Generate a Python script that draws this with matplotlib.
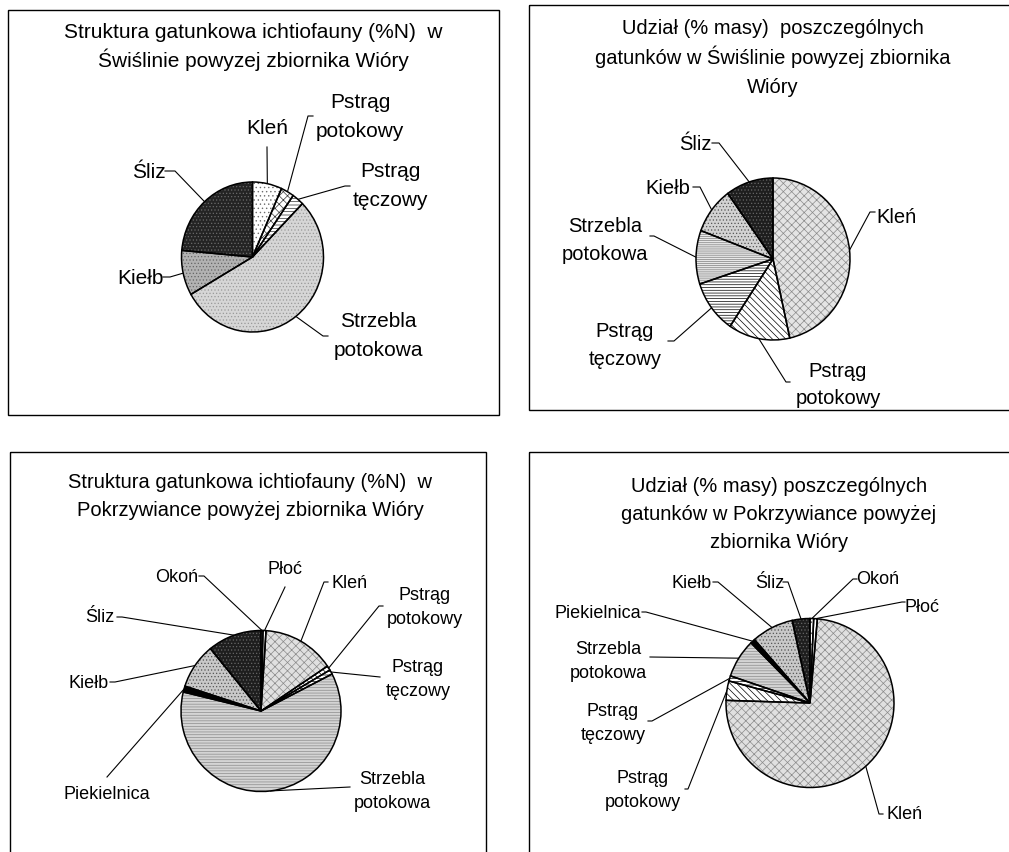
import numpy as np
import matplotlib.pyplot as plt
from matplotlib.patches import Rectangle

plt.rcParams['font.family'] = ['Liberation Sans', 'DejaVu Sans']
plt.rcParams['hatch.linewidth'] = 0.5

W, H = 1009, 853

# udział procentowy gatunków
swi_labels = ['Kleń', 'Pstrąg\npotokowy', 'Pstrąg\ntęczowy', 'Strzebla\npotokowa', 'Kiełb', 'Śliz']
swi_n_values = [6.7, 3.0, 2.7, 54.3, 9.7, 23.6]
swi_m_values = [46.5, 12.9, 10.6, 10.7, 9.3, 10.0]

pok_labels = ['Okoń', 'Płoć', 'Kleń', 'Pstrąg\npotokowy', 'Pstrąg\ntęczowy',
              'Strzebla\npotokowa', 'Piekielnica', 'Kiełb', 'Śliz']
pok_n_values = [0.4, 0.6, 14.6, 0.9, 0.9, 61.4, 1.2, 9.1, 10.9]
pok_m_values = [0.7, 0.7, 74.1, 3.7, 1.0, 7.4, 0.9, 8.1, 3.4]

titles = [
    ['Struktura gatunkowa ichtiofauny (%N)  w', 'Świślinie powyzej zbiornika Wióry'],
    ['Udział (% masy)  poszczególnych', 'gatunków w Świślinie powyzej zbiornika', 'Wióry'],
    ['Struktura gatunkowa ichtiofauny (%N)  w', 'Pokrzywiance powyżej zbiornika Wióry'],
    ['Udział (% masy) poszczególnych', 'gatunków w Pokrzywiance powyżej', 'zbiornika Wióry'],
]

# wypełnienia: (kolor tła, kreskowanie, kolor kreskowania)
style_n1 = {
    'Kleń': ('white', '....', '#6e6e6e'),
    'Pstrąg\npotokowy': ('white', 'xxxx', '#3a3a3a'),
    'Pstrąg\ntęczowy': ('white', '-----', '#303030'),
    'Strzebla\npotokowa': ('#d6d6d6', '.....', '#9a9a9a'),
    'Kiełb': ('#b2b2b2', '.....', '#666666'),
    'Śliz': ('#242424', '.....', '#6a6a6a'),
}
style_m1 = {
    'Kleń': ('#e4e4e4', 'xxxx', '#8a8a8a'),
    'Pstrąg\npotokowy': ('white', '\\\\\\\\\\', 'black'),
    'Pstrąg\ntęczowy': ('white', '------', 'black'),
    'Strzebla\npotokowa': ('#e8e8e8', '--------', '#808080'),
    'Kiełb': ('#d2d2d2', '.....', '#555555'),
    'Śliz': ('#1e1e1e', '.....', '#666666'),
}
style_p = {
    'Okoń': ('white', '...', '#555555'),
    'Płoć': ('white', None, 'black'),
    'Kleń': ('#e0e0e0', 'xxxx', '#8a8a8a'),
    'Pstrąg\npotokowy': ('white', '\\\\\\\\\\', 'black'),
    'Pstrąg\ntęczowy': ('white', '-----', 'black'),
    'Strzebla\npotokowa': ('#d4d4d4', '------', '#8c8c8c'),
    'Piekielnica': ('black', None, 'black'),
    'Kiełb': ('#c8c8c8', '.....', '#555555'),
    'Śliz': ('#1e1e1e', '.....', '#666666'),
}

# panele: ramka, środek i promienie koła, tytuł, wielkość czcionki
panels = [
    dict(box=(8, 11, 499, 416), center=(252.5, 258), r=(71, 75),
         title_x=253, title_y=[32, 60], title_fs=15, fs=15, gap=28.5,
         labels=swi_labels, values=swi_n_values, style=style_n1,
         # (tekst x, tekst y, początek linii x, y, odcinek poziomy)
         place=[(267, 128, 267, 148, 0), (360, 117, 313, 117, -5),
                (390, 186, 350, 187, -5), (378, 336, 328, 337, -5),
                (140, 278, 163, 278, 7), (149, 172, 165, 172, 10)]),
    dict(box=(529, 6, 1012, 411), center=(773, 260), r=(77, 81),
         title_x=773, title_y=[28, 57, 87], title_fs=14.5, fs=14.5, gap=28,
         labels=swi_labels, values=swi_m_values, style=style_m1,
         place=[(897, 217, 875, 213, -5), (838, 385, 790, 383, -4),
                (625, 345, 668, 342, 6), (605, 240, 650, 237, 4),
                (668, 188, 693, 188, 7), (695, 144, 712, 144, 7)]),
    dict(box=(10, 453, 486, 870), center=(261, 712), r=(80, 80.5),
         title_x=250, title_y=[483, 510], title_fs=14.5, fs=13, gap=24,
         labels=pok_labels, values=pok_n_values, style=style_p,
         place=[(177, 577, 199, 577, 5), (285, 570, 285, 588, 0),
                (350, 583, 328, 583, -4), (425, 608, 383, 607, -4),
                (418, 680, 380, 678, 0), (392, 792, 350, 788, 0),
                (107, 795, 107, 778, 0), (89, 683, 110, 683, 5),
                (100, 618, 117, 618, 5)]),
    dict(box=(529, 453, 1015, 870), center=(810, 704), r=(84, 84.5),
         title_x=779, title_y=[487, 515, 542], title_fs=14.5, fs=13, gap=24,
         labels=pok_labels, values=pok_m_values, style=style_p,
         place=[(878, 580, 857, 580, -4), (922, 608, 905, 603, -3),
                (905, 815, 883, 815, -4), (643, 791, 685, 790, 3),
                (613, 723, 648, 722, 4), (608, 662, 650, 658, 0),
                (598, 613, 642, 613, 4), (692, 583, 713, 583, 5),
                (770, 583, 783, 583, 5)]),
]

fig = plt.figure(figsize=(W / 100, H / 100), dpi=100)
fig.patch.set_facecolor('white')

# warstwa w pikselach (y w dół) na ramki, tytuły i opisy
frame = fig.add_axes([0, 0, 1, 1])
frame.set_xlim(0, W)
frame.set_ylim(H, 0)
frame.axis('off')


def put_text(x, y, text, fs, gap):
    lines = text.split('\n')
    y0 = y - gap * (len(lines) - 1) / 2
    for i, line in enumerate(lines):
        frame.text(x, y0 + i * gap, line, fontsize=fs, ha='center', va='center')


for k, p in enumerate(panels):
    x0, y0, x1, y1 = p['box']
    frame.add_patch(Rectangle((x0, y0), x1 - x0, y1 - y0, fill=False,
                              edgecolor='black', linewidth=1.0, clip_on=False))
    for line, ty in zip(titles[k], p['title_y']):
        frame.text(p['title_x'], ty, line, fontsize=p['title_fs'], ha='center', va='center')

    cx, cy = p['center']
    rx, ry = p['r']
    pie_ax = fig.add_axes([(cx - rx) / W, (H - cy - ry) / H, 2 * rx / W, 2 * ry / H])
    styles = [p['style'][lab] for lab in p['labels']]

    # wypełnienie wycinków (kolor kreskowania = kolor krawędzi o grubości 0)
    wedges, _ = pie_ax.pie(p['values'], colors=[s[0] for s in styles],
                           hatch=[s[1] for s in styles],
                           startangle=90, counterclock=False,
                           wedgeprops=dict(linewidth=0, clip_on=False))
    for w, s in zip(wedges, styles):
        w.set_edgecolor(s[2])
        w.set_linewidth(0)
    # obrys wycinków
    pie_ax.pie(p['values'], startangle=90, counterclock=False,
               wedgeprops=dict(fill=False, edgecolor='black', linewidth=1.1, clip_on=False))
    pie_ax.set_xlim(-1, 1)
    pie_ax.set_ylim(-1, 1)
    pie_ax.set_aspect('auto')
    pie_ax.axis('off')

    for w, lab, (tx, ty, lx, ly, stub) in zip(wedges, p['labels'], p['place']):
        put_text(tx, ty, lab, p['fs'], p['gap'])
        theta = np.deg2rad((w.theta1 + w.theta2) / 2)
        px, py = pie_ax.transData.transform((np.cos(theta), np.sin(theta)))
        frame.plot([lx, lx + stub, px], [ly, ly, H - py], color='black', linewidth=0.8)

fig.savefig('out.png', dpi=100, facecolor='white')
